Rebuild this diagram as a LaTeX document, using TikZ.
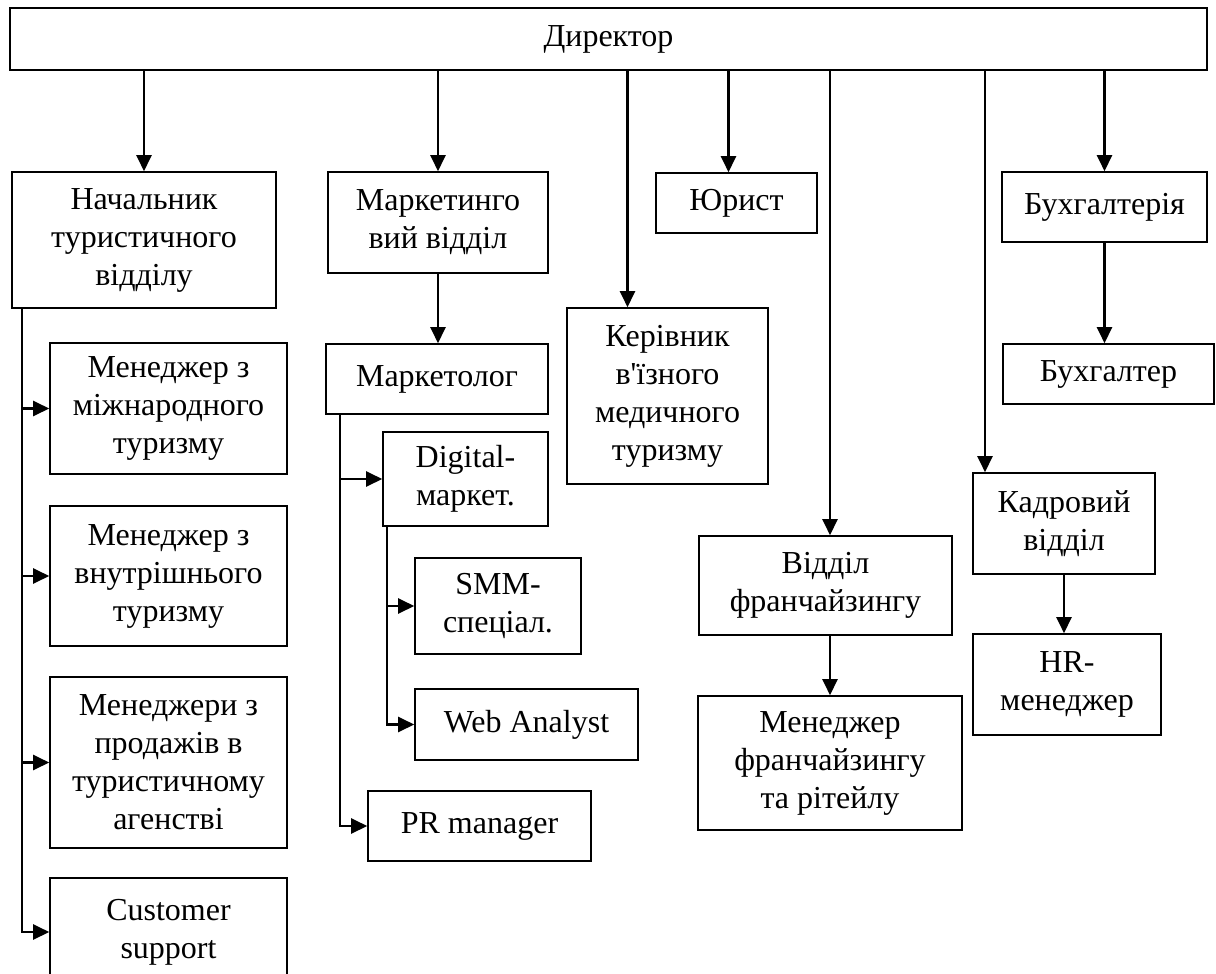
\documentclass[tikz,border=0pt]{standalone}
\usepackage{fontspec}
\setmainfont{Liberation Serif}
\usetikzlibrary{arrows.meta}

\begin{document}
\begin{tikzpicture}[x=0.5pt,y=-0.5pt,>={Triangle[length=8pt,width=7.5pt]},
    orgbox/.style={draw,line width=0.8pt,align=center,inner sep=2pt,font=\fontsize{16}{19}\selectfont},
    link/.style={->,line width=1.2pt}]
    \clip (0,0) rectangle (1216,974);

    % верхній рівень
    \node[orgbox,minimum width=598.5pt,minimum height=31pt] (dir) at (608.5,39) {Директор};

    % підрозділи під директором
    \node[orgbox,minimum width=132pt,minimum height=68pt] (nach) at (144,240) {Начальник\\туристичного\\відділу};
    \node[orgbox,minimum width=110pt,minimum height=50.5pt] (mkt) at (438,222.5) {Маркетинго\\вий відділ};
    \node[orgbox,minimum width=80.5pt,minimum height=30pt] (yur) at (736.5,203) {Юрист};
    \node[orgbox,minimum width=102.5pt,minimum height=35pt] (buh) at (1104.5,207) {Бухгалтерія};
    \node[orgbox,minimum width=100.5pt,minimum height=88pt] (ker) at (667.5,396) {Керівник\\в\textquotesingle їзного\\медичного\\туризму};
    \node[orgbox,minimum width=126.5pt,minimum height=49.5pt] (vidil) at (825.5,585.5) {Відділ\\франчайзингу};
    \node[orgbox,minimum width=91pt,minimum height=50.5pt] (kadr) at (1064,523.5) {Кадровий\\відділ};

    % другий рівень
    \node[orgbox,minimum width=105.5pt,minimum height=30pt] (buhg) at (1108.5,374) {Бухгалтер};
    \node[orgbox,minimum width=111pt,minimum height=35pt] (mlog) at (437,379) {Маркетолог};
    \node[orgbox,minimum width=132pt,minimum height=67pt] (menf) at (830,763) {Менеджер\\франчайзингу\\та рітейлу};
    \node[orgbox,minimum width=94pt,minimum height=50.5pt] (hr) at (1067,684.5) {HR-\\менеджер};

    % туристичний відділ
    \node[orgbox,minimum width=118.5pt,minimum height=65.5pt] (mint) at (168.5,408.5) {Менеджер з\\міжнародного\\туризму};
    \node[orgbox,minimum width=118.5pt,minimum height=70pt] (mvn) at (168.5,576) {Менеджер з\\внутрішнього\\туризму};
    \node[orgbox,minimum width=118.5pt,minimum height=85.5pt] (mprod) at (168.5,762.5) {Менеджери з\\продажів в\\туристичному\\агенстві};
    \node[orgbox,minimum width=118.5pt,minimum height=54pt] (cust) at (168.5,932) {Customer\\support};

    % маркетинг
    \node[orgbox,minimum width=82.5pt,minimum height=47pt] (digi) at (465.5,479) {Digital-\\маркет.};
    \node[orgbox,minimum width=83pt,minimum height=48pt] (smm) at (498,606) {SMM-\\спеціал.};
    \node[orgbox,minimum width=111.5pt,minimum height=35.5pt] (web) at (526.5,724.5) {Web Analyst};
    \node[orgbox,minimum width=111.5pt,minimum height=35pt] (pr) at (479.5,826) {PR manager};

    % точки входу стрілок
    \coordinate (kerin) at ([xshift=-20pt]ker.north);
    \coordinate (yurin) at ([xshift=-4pt]yur.north);
    \coordinate (vidin) at (vidil.north -| menf.north);
    \coordinate (kadrin) at ([xshift=-39.5pt]kadr.north);

    % стрілки від директора
    \draw[link] (dir.south -| nach.north) -- (nach.north);
    \draw[link] (dir.south -| mkt.north) -- (mkt.north);
    \draw[link] (dir.south -| kerin) -- (kerin);
    \draw[link] (dir.south -| yurin) -- (yurin);
    \draw[link] (dir.south -| vidin) -- (vidin);
    \draw[link] (dir.south -| kadrin) -- (kadrin);
    \draw[link] (dir.south -| buh.north) -- (buh.north);

    % вертикальні зв'язки
    \draw[link] (mkt.south) -- (mkt.south |- mlog.north);
    \draw[link] (buh.south) -- (buh.south |- buhg.north);
    \draw[link] (vidil.south -| menf.north) -- (menf.north);
    \draw[link] (kadr.south) -- (kadr.south |- hr.north);

    % бічні гілки
    \foreach \t in {mint,mvn,mprod,cust}
      \draw[link] ([xshift=5.5pt]nach.south west) |- (\t.west);
    \foreach \t in {digi,pr}
      \draw[link] ([xshift=7.5pt]mlog.south west) |- (\t.west);
    \foreach \t in {smm,web}
      \draw[link] ([xshift=2.5pt]digi.south west) |- (\t.west);
\end{tikzpicture}
\end{document}
